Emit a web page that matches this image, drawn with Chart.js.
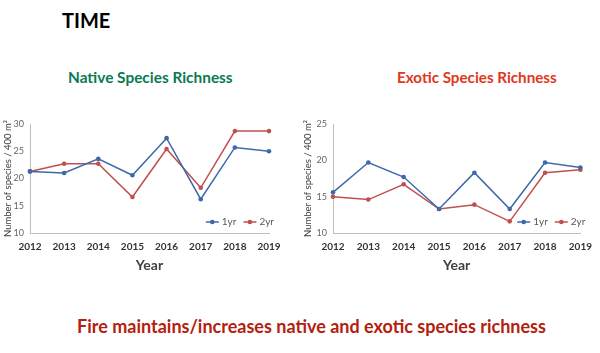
<!DOCTYPE html>
<html>
<head>
<meta charset="utf-8">
<script src="https://cdn.jsdelivr.net/npm/chart.js@4.4.0/dist/chart.umd.min.js"></script>
<style>
  body { margin: 0; width: 600px; height: 353px; background: #fff; position: relative; overflow: hidden; font-family: Lato, sans-serif; }
  .txt { position: absolute; font-weight: bold; white-space: nowrap; line-height: 1; }
  .box { position: absolute; }
</style>
</head>
<body>
<div class="txt" style="left:62px; top:10px; font-size:20px; color:#000;">TIME</div>
<div class="txt" style="left:68px; top:70px; font-size:15.4px; color:#0b7a52;">Native Species Richness</div>
<div class="txt" style="left:397px; top:70px; font-size:15.2px; color:#e0381c;">Exotic Species Richness</div>
<div class="txt" style="left:77px; top:317px; font-size:18px; color:#b3200e;">Fire maintains/increases native and exotic species richness</div>

<div class="box" style="left:0; top:110px; width:290px; height:170px;"><canvas id="nativeChart"></canvas></div>
<div class="box" style="left:300px; top:110px; width:300px; height:170px;"><canvas id="exoticChart"></canvas></div>

<script>
// data
const years = ["2012", "2013", "2014", "2015", "2016", "2017", "2018", "2019"];
const seriesNames = ["1yr", "2yr"];

const native1yr = [21.3, 21.0, 23.6, 20.6, 27.4, 16.2, 25.7, 25.0];
const native2yr = [21.3, 22.7, 22.7, 16.6, 25.4, 18.3, 28.7, 28.7];

const exotic1yr = [15.6, 19.7, 17.7, 13.3, 18.3, 13.3, 19.7, 19.0];
const exotic2yr = [15.0, 14.6, 16.7, 13.3, 13.9, 11.6, 18.3, 18.7];

const blue = "#3d69ab";
const red = "#c0504d";

// legend drawn inside the plot, bottom right
const insideLegend = {
    id: 'insideLegend',
    afterDatasetsDraw(chart) {
        const {ctx, chartArea} = chart;
        ctx.save();
        ctx.font = "10px Lato, sans-serif";
        ctx.textBaseline = "middle";
        const items = chart.data.datasets.map(d => ({label: d.label, color: d.borderColor, w: ctx.measureText(d.label).width}));
        const lineLen = 13, gap = 3, itemGap = 7;
        let total = 0;
        items.forEach((it, i) => { total += lineLen + gap + it.w + (i < items.length - 1 ? itemGap : 0); });
        let x = chartArea.right + 5 - total;
        const y = chartArea.bottom - 11;
        items.forEach(it => {
            ctx.strokeStyle = it.color;
            ctx.lineWidth = 1.5;
            ctx.beginPath();
            ctx.moveTo(x, y);
            ctx.lineTo(x + lineLen, y);
            ctx.stroke();
            ctx.fillStyle = it.color;
            ctx.beginPath();
            ctx.arc(x + lineLen / 2, y, 2.3, 0, Math.PI * 2);
            ctx.fill();
            ctx.fillStyle = "#595959";
            ctx.fillText(it.label, x + lineLen + gap, y);
            x += lineLen + gap + it.w + itemGap;
        });
        ctx.restore();
    }
};

function makeChart(id, d1, d2, yMin, yMax, yWidth, rightPad) {
    return new Chart(document.getElementById(id), {
        type: 'line',
        data: {
            labels: years,
            datasets: [
                {
                    label: seriesNames[0],
                    data: d1,
                    borderColor: blue,
                    backgroundColor: blue,
                    borderWidth: 1.5,
                    pointRadius: 2.3,
                    pointBorderWidth: 0,
                    tension: 0,
                },
                {
                    label: seriesNames[1],
                    data: d2,
                    borderColor: red,
                    backgroundColor: red,
                    borderWidth: 1.5,
                    pointRadius: 2.3,
                    pointBorderWidth: 0,
                    tension: 0,
                },
            ]
        },
        options: {
            responsive: true,
            maintainAspectRatio: false,
            animation: false,
            layout: {
                padding: {
                    top: 14,
                    right: rightPad,
                    left: 0,
                    bottom: 0
                }
            },
            plugins: {
                legend: { display: false },
                tooltip: { enabled: false },
            },
            scales: {
                x: {
                    offset: false,
                    grid: { display: false, drawTicks: false },
                    border: { color: "#bfbfbf", width: 1 },
                    ticks: {
                        padding: 8,
                        maxRotation: 0,
                        autoSkip: false,
                        color: "#333",
                        font: { family: "Lato", size: 10, weight: "bold" },
                    },
                    title: {
                        display: true,
                        text: "Year",
                        color: "#404040",
                        padding: 6,
                        font: { family: "Lato", size: 14, weight: "bold" },
                    },
                    afterFit(scale) { scale.height = 47; }
                },
                y: {
                    min: yMin,
                    max: yMax,
                    grid: { display: false, drawTicks: false },
                    border: { color: "#bfbfbf", width: 1 },
                    ticks: {
                        stepSize: 5,
                        padding: 6,
                        color: "#666",
                        font: { family: "Lato", size: 9 },
                    },
                    title: {
                        display: true,
                        text: "Number of species / 400 m²",
                        color: "#404040",
                        padding: 2,
                        font: { family: "Lato", size: 9.5 },
                    },
                    afterFit(scale) { scale.width = yWidth; }
                }
            }
        },
        plugins: [insideLegend]
    });
}

makeChart('nativeChart', native1yr, native2yr, 10, 30, 30, 21);
makeChart('exoticChart', exotic1yr, exotic2yr, 10, 25, 33, 13);
</script>
</body>
</html>
